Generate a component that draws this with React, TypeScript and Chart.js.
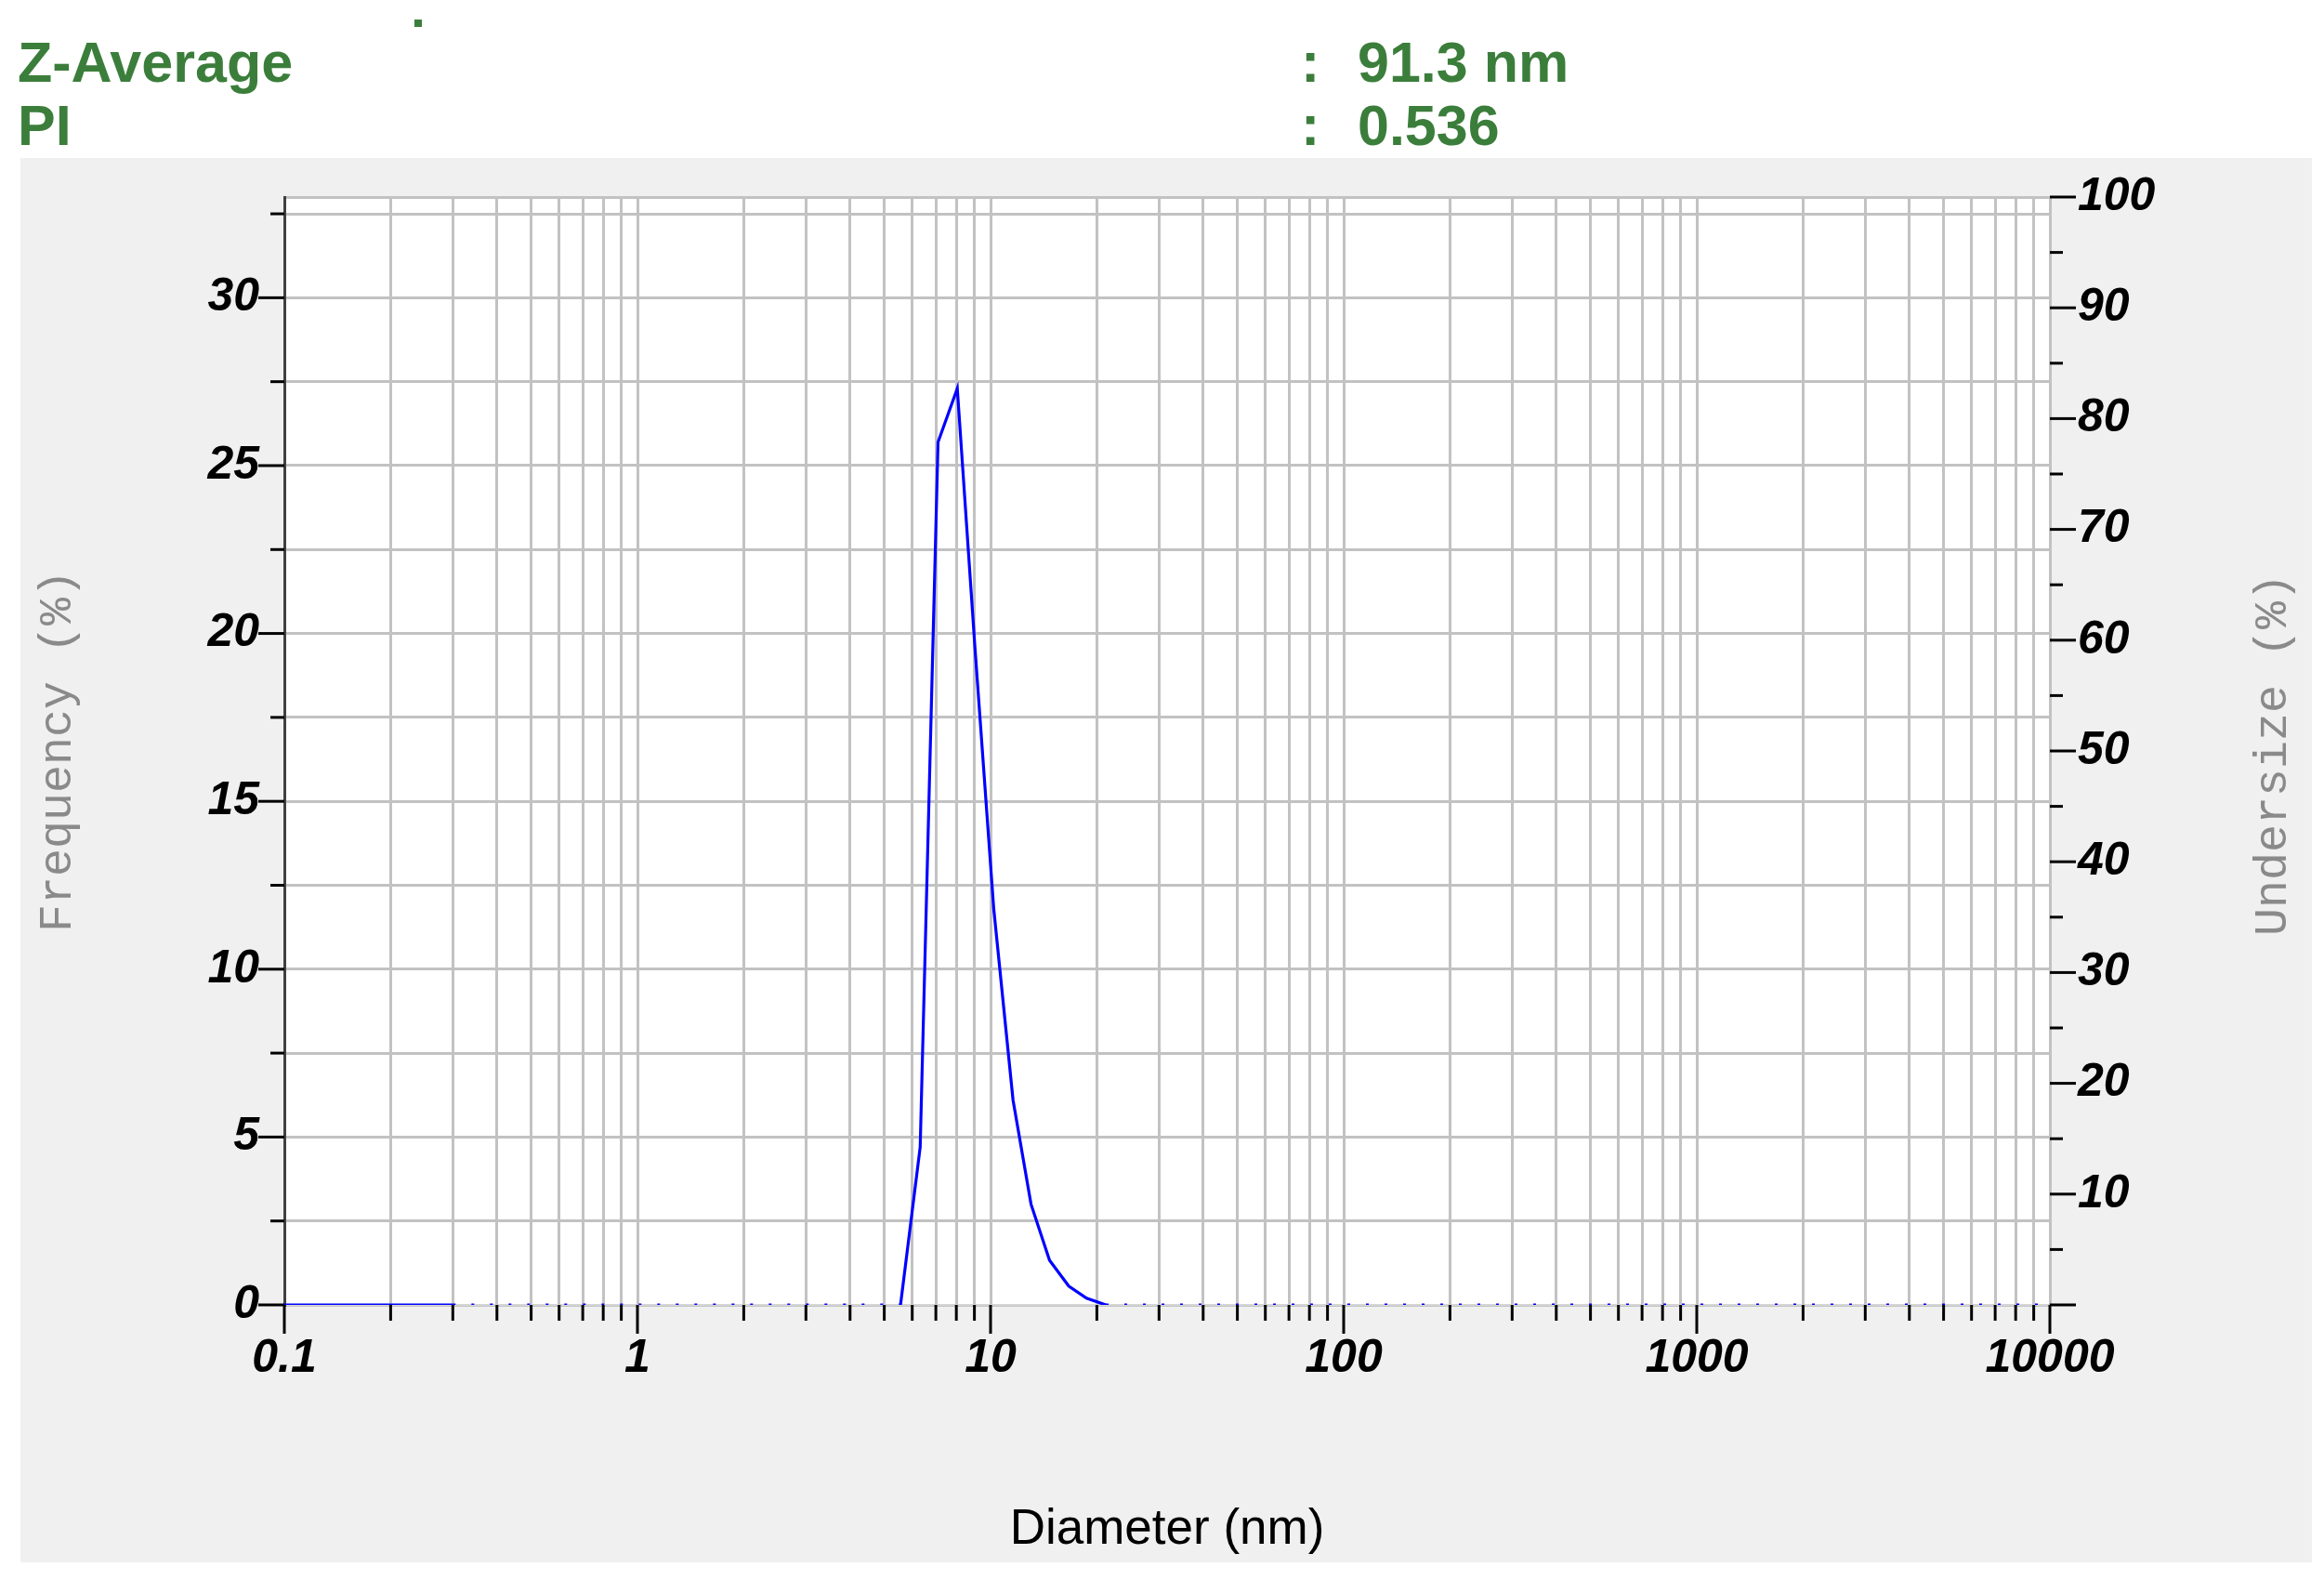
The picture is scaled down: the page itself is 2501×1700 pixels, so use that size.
import React, { useEffect, useRef } from 'react';
import { Chart, registerables } from 'chart.js';

Chart.register(...registerables);

// ---- data ----
const diameterNm = [0.1, 0.3, 5.56, 6.32, 7.1, 8.05, 9.03, 10.21, 11.58, 13.02, 14.69, 16.65, 18.7, 21.2, 10000];
const frequencyPct = [0, 0, 0, 4.7, 25.7, 27.3, 19.6, 11.8, 6.1, 3.0, 1.33, 0.56, 0.2, 0, 0];

const xDecades = [0.1, 1, 10, 100, 1000, 10000];
const xTickLabels = ['0.1', '1', '10', '100', '1000', '10000'];
const xMinorMultipliers = [2, 3, 4, 5, 6, 7, 8, 9];

const yLeftTicks = [0, 2.5, 5, 7.5, 10, 12.5, 15, 17.5, 20, 22.5, 25, 27.5, 30, 32.5, 33];
const yLeftLabels = ['0', '5', '10', '15', '20', '25', '30'];
const yRightTicks = [0, 5, 10, 15, 20, 25, 30, 35, 40, 45, 50, 55, 60, 65, 70, 75, 80, 85, 90, 95, 100];
const yRightLabels = ['10', '20', '30', '40', '50', '60', '70', '80', '90', '100'];

const headerRows = [
  { name: 'Z-Average', value: '91.3 nm' },
  { name: 'PI', value: '0.536' },
];

const xTitle = 'Diameter (nm)';
const yLeftTitle = 'Frequency (%)';
const yRightTitle = 'Undersize (%)';

// ---- styles ----
const GREEN = '#3b7e3b';
const GRID = '#c2c2c2';
const SANS = "'Liberation Sans', Arial, Helvetica, sans-serif";
const MONO = "'Liberation Mono', 'Courier New', monospace";
const tickFont = { family: SANS, size: 50, style: 'italic' as const, weight: 'bold' as const };

const xTickValues: number[] = [];
xDecades.forEach((d, i) => {
  xTickValues.push(d);
  if (i < xDecades.length - 1) xMinorMultipliers.forEach((m) => xTickValues.push(m * d));
});

const isDecade = (v: number) => xDecades.some((d) => Math.abs(v - d) < d * 1e-9);
const decadeLabel = (v: number) => {
  const i = xDecades.findIndex((d) => Math.abs(v - d) < d * 1e-9);
  return i >= 0 ? xTickLabels[i] : '';
};

const axisDecor = {
  id: 'axisDecor',
  beforeDraw(chart: any) {
    const { ctx, chartArea: a } = chart;
    ctx.save();
    ctx.fillStyle = '#ffffff';
    ctx.fillRect(a.left, a.top, a.right - a.left, a.bottom - a.top);
    ctx.restore();
  },
  afterDraw(chart: any) {
    const { ctx, chartArea: a, scales } = chart;
    ctx.save();
    ctx.strokeStyle = '#000000';
    ctx.lineWidth = 3;
    ctx.lineCap = 'butt';
    const seg = (x1: number, y1: number, x2: number, y2: number) => {
      ctx.beginPath();
      ctx.moveTo(x1, y1);
      ctx.lineTo(x2, y2);
      ctx.stroke();
    };
    const xs = scales.x;
    xs.ticks.forEach((t: any) => {
      const px = xs.getPixelForValue(t.value);
      seg(px, a.bottom, px, a.bottom + (isDecade(t.value) ? 31 : 17));
    });
    const yl = scales.y;
    yl.ticks.forEach((t: any) => {
      if (Math.abs(t.value / 2.5 - Math.round(t.value / 2.5)) > 1e-9) return;
      const py = yl.getPixelForValue(t.value);
      const len = t.value % 5 === 0 ? 28 : 15;
      seg(a.left - len, py, a.left, py);
    });
    const yr = scales.y2;
    yr.ticks.forEach((t: any) => {
      const py = yr.getPixelForValue(t.value);
      const len = t.value % 10 === 0 ? 28 : 14;
      seg(a.right, py, a.right + len, py);
    });
    // right-hand title, reading bottom-to-top like the reference
    const title = yr.options.title;
    ctx.translate(yr.right - 54, (a.top + a.bottom) / 2 + 4);
    ctx.rotate(-Math.PI / 2);
    ctx.font = `${title.font.size}px ${title.font.family}`;
    ctx.fillStyle = title.color;
    ctx.textAlign = 'center';
    ctx.textBaseline = 'middle';
    ctx.fillText(title.text, 0, 0);
    ctx.restore();
  },
};

function DlsChart() {
  const ref = useRef<HTMLCanvasElement | null>(null);
  useEffect(() => {
    if (!ref.current) return;
    const chart = new Chart(ref.current, {
      type: 'line',
      data: {
        datasets: [
          {
            label: 'Frequency',
            data: diameterNm.map((x, i) => ({ x, y: frequencyPct[i] })),
            borderColor: '#0000ff',
            backgroundColor: '#0000ff',
            borderWidth: 3.2,
            pointRadius: 0,
            tension: 0,
            fill: false,
            xAxisID: 'x',
            yAxisID: 'y',
            segment: {
              borderDash: (c: any) =>
                c.p0DataIndex > 0 && c.p0.parsed.y === 0 && c.p1.parsed.y === 0 ? [3, 17] : undefined,
            },
          },
        ],
      },
      options: {
        responsive: false,
        animation: false,
        devicePixelRatio: 1,
        layout: { padding: { top: 212, left: 0, right: 0, bottom: 0 } },
        plugins: { legend: { display: false }, tooltip: { enabled: false } },
        scales: {
          x: {
            type: 'logarithmic',
            position: 'bottom',
            min: 0.1,
            max: 10000,
            afterBuildTicks: (s: any) => {
              s.ticks = xTickValues.map((v) => ({ value: v, major: isDecade(v) }));
            },
            afterFit: (s: any) => {
              s.height = 296;
            },
            ticks: {
              autoSkip: false,
              maxRotation: 0,
              minRotation: 0,
              padding: 28,
              color: '#000000',
              font: tickFont,
              callback: (v: any) => decadeLabel(Number(v)),
            },
            grid: {
              drawTicks: false,
              color: (c: any) => (c.index === 0 ? 'rgba(0,0,0,0)' : GRID),
              lineWidth: 3,
            },
            border: { color: '#d6d6d6', width: 2 },
            title: {
              display: true,
              text: xTitle,
              color: '#000000',
              font: { family: SANS, size: 53 },
              padding: { top: 0, bottom: 22 },
            },
          },
          y: {
            type: 'linear',
            position: 'left',
            min: 0,
            max: 33,
            afterBuildTicks: (s: any) => {
              s.ticks = yLeftTicks.map((v) => ({ value: v }));
            },
            afterFit: (s: any) => {
              s.width = 306;
            },
            ticks: {
              autoSkip: false,
              padding: 27,
              color: '#000000',
              font: tickFont,
              callback: (v: any) => (yLeftLabels.includes(String(v)) ? String(v) : ''),
            },
            grid: { drawTicks: false, color: GRID, lineWidth: 3 },
            border: { color: '#404040', width: 3 },
            title: {
              display: true,
              text: yLeftTitle,
              color: '#8a8a8a',
              font: { family: MONO, size: 50 },
              padding: { top: 33, bottom: 0 },
            },
          },
          y2: {
            type: 'linear',
            position: 'right',
            min: 0,
            max: 100,
            afterBuildTicks: (s: any) => {
              s.ticks = yRightTicks.map((v) => ({ value: v }));
            },
            afterFit: (s: any) => {
              s.width = 295;
            },
            ticks: {
              autoSkip: false,
              padding: 30,
              color: '#000000',
              font: tickFont,
              callback: (v: any) => (yRightLabels.includes(String(v)) ? String(v) : ''),
            },
            grid: { drawOnChartArea: false, drawTicks: false },
            border: { color: GRID, width: 3 },
            title: {
              display: false,
              text: yRightTitle,
              color: '#8a8a8a',
              font: { family: MONO, size: 50 },
            },
          },
        },
      },
      plugins: [axisDecor],
    } as any);
    return () => chart.destroy();
  }, []);
  return (
    <canvas
      ref={ref}
      width={2501}
      height={1700}
      style={{ position: 'absolute', left: 0, top: 0, width: 2501, height: 1700 }}
    />
  );
}

export default function App() {
  const textBase: React.CSSProperties = {
    position: 'absolute',
    fontFamily: SANS,
    fontWeight: 'bold',
    fontSize: 61,
    lineHeight: '61px',
    color: GREEN,
    whiteSpace: 'pre',
    margin: 0,
  };
  const rowTops = [37, 105];
  return (
    <div style={{ position: 'absolute', left: 0, top: 0, width: 2501, height: 1700, background: '#ffffff', overflow: 'hidden' }}>
      <div style={{ position: 'absolute', left: 446, top: 21, width: 8, height: 8, background: GREEN }} />
      {headerRows.map((r, i) => (
        <React.Fragment key={r.name}>
          <div style={{ ...textBase, left: 19, top: rowTops[i] }}>{r.name}</div>
          <div style={{ ...textBase, left: 1400, top: rowTops[i] }}>:</div>
          <div style={{ ...textBase, left: 1461, top: rowTops[i] }}>{r.value}</div>
        </React.Fragment>
      ))}
      <div style={{ position: 'absolute', left: 22, top: 170, width: 2466, height: 1511, background: '#f0f0f0' }} />
      <DlsChart />
    </div>
  );
}
